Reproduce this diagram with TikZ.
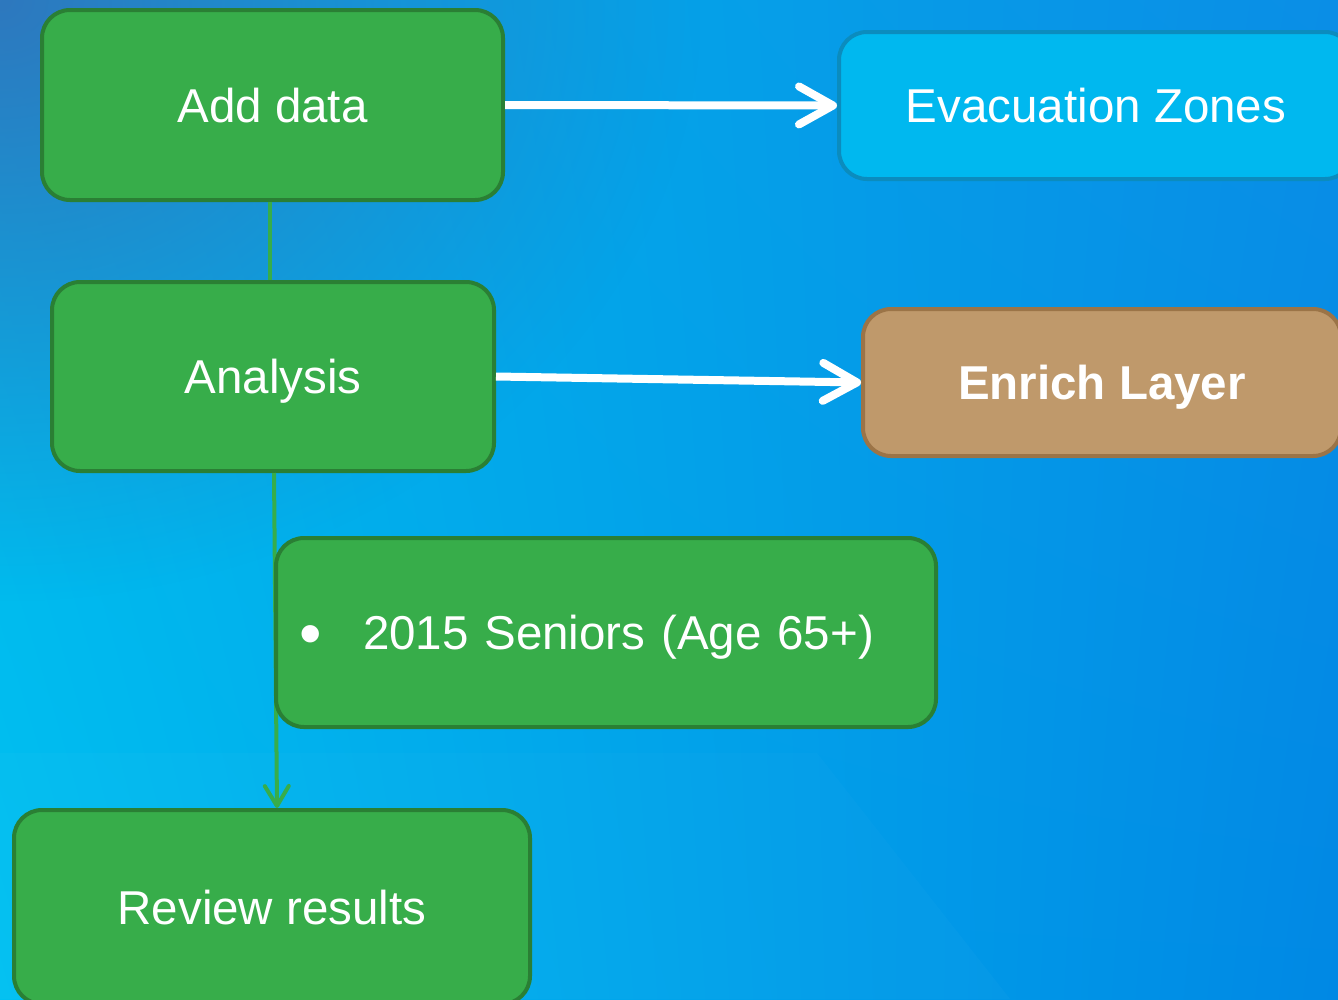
\documentclass[tikz,border=0pt]{standalone}
\usepackage{fontspec}
\setmainfont{Liberation Sans}
\usetikzlibrary{arrows.meta,fadings,shadings}
\definecolor{bgUL}{HTML}{00B4EA}
\definecolor{bgUR}{HTML}{0A8EE6}
\definecolor{bgLL}{HTML}{00C0F1}
\definecolor{bgLR}{HTML}{0088E4}
\definecolor{bgDark}{HTML}{2E78BE}
\definecolor{gfill}{HTML}{37AD4A}
\definecolor{gline}{HTML}{2A7F34}
\definecolor{cfill}{HTML}{00B8EF}
\definecolor{cline}{HTML}{0B8CBE}
\definecolor{tfill}{HTML}{BF996B}
\definecolor{tline}{HTML}{9B7447}
\tikzfading[name=tlfade, inner color=transparent!0, outer color=transparent!100]
\tikzset{
  box/.style={draw, line width=4pt, rounded corners=28pt, text=white,
    font=\fontsize{47.5}{57}\selectfont, text height=34pt, text depth=0pt,
    inner sep=0pt},
  gbox/.style={box, fill=gfill, draw=gline},
  cbox/.style={box, fill=cfill, draw=cline},
  tbox/.style={box, fill=tfill, draw=tline, font=\fontsize{47.5}{57}\selectfont\bfseries},
  warrow/.style={draw=white, line width=8pt, -{Straight Barb[length=34pt,width=38pt,round]}},
  gconn/.style={draw=gfill, line width=4pt},
  garrow/.style={gconn, -{Straight Barb[length=20pt,width=24pt,round]}}
}
\begin{document}
\begin{tikzpicture}[x=1pt,y=-1pt]
\useasboundingbox (0,0) rectangle (1338,999);
\shade[upper left=bgUL, upper right=bgUR, lower left=bgLL, lower right=bgLR] (0,0) rectangle (1338,999);
\fill[bgDark, path fading=tlfade] (-700,-600) rectangle (700,600);
\fill[white, opacity=0.02] (0,753) -- (817,753) -- (1010,999) -- (0,999) -- cycle;
\begin{scope}
\clip (0,0) rectangle (1338,999);
\node[gbox, minimum width=461pt, minimum height=190pt] (add) at (272.5,105) {Add data};
\node[cbox, minimum width=514pt, minimum height=147pt] (evac) at (1096,105.5) {Evacuation Zones};
\node[gbox, minimum width=442pt, minimum height=189pt] (analysis) at (273,376.5) {Analysis};
\node[tbox, minimum width=478pt, minimum height=147pt] (enrich) at (1102,382.5) {Enrich Layer};
\node[gbox, minimum width=516pt, minimum height=194pt] (review) at (272,907) {Review results};
\draw[warrow] (add.east) -- (evac.west);
\draw[warrow] (analysis.east) -- (enrich.west);
\draw[gconn] ([xshift=-2.5pt]add.south) -- ([xshift=-3pt]analysis.north);
\draw[garrow] ([xshift=1pt]analysis.south) -- ([xshift=5pt]review.north);
\node[gbox, minimum width=660pt, minimum height=189pt, text width=614pt, align=left, inner xsep=23pt] (seniors) at (606,632.5) {\makebox[64pt][l]{\raisebox{-6pt}{\scalebox{1.35}{•}}}2015 Seniors (Age 65+)};
\end{scope}
\end{tikzpicture}
\end{document}
